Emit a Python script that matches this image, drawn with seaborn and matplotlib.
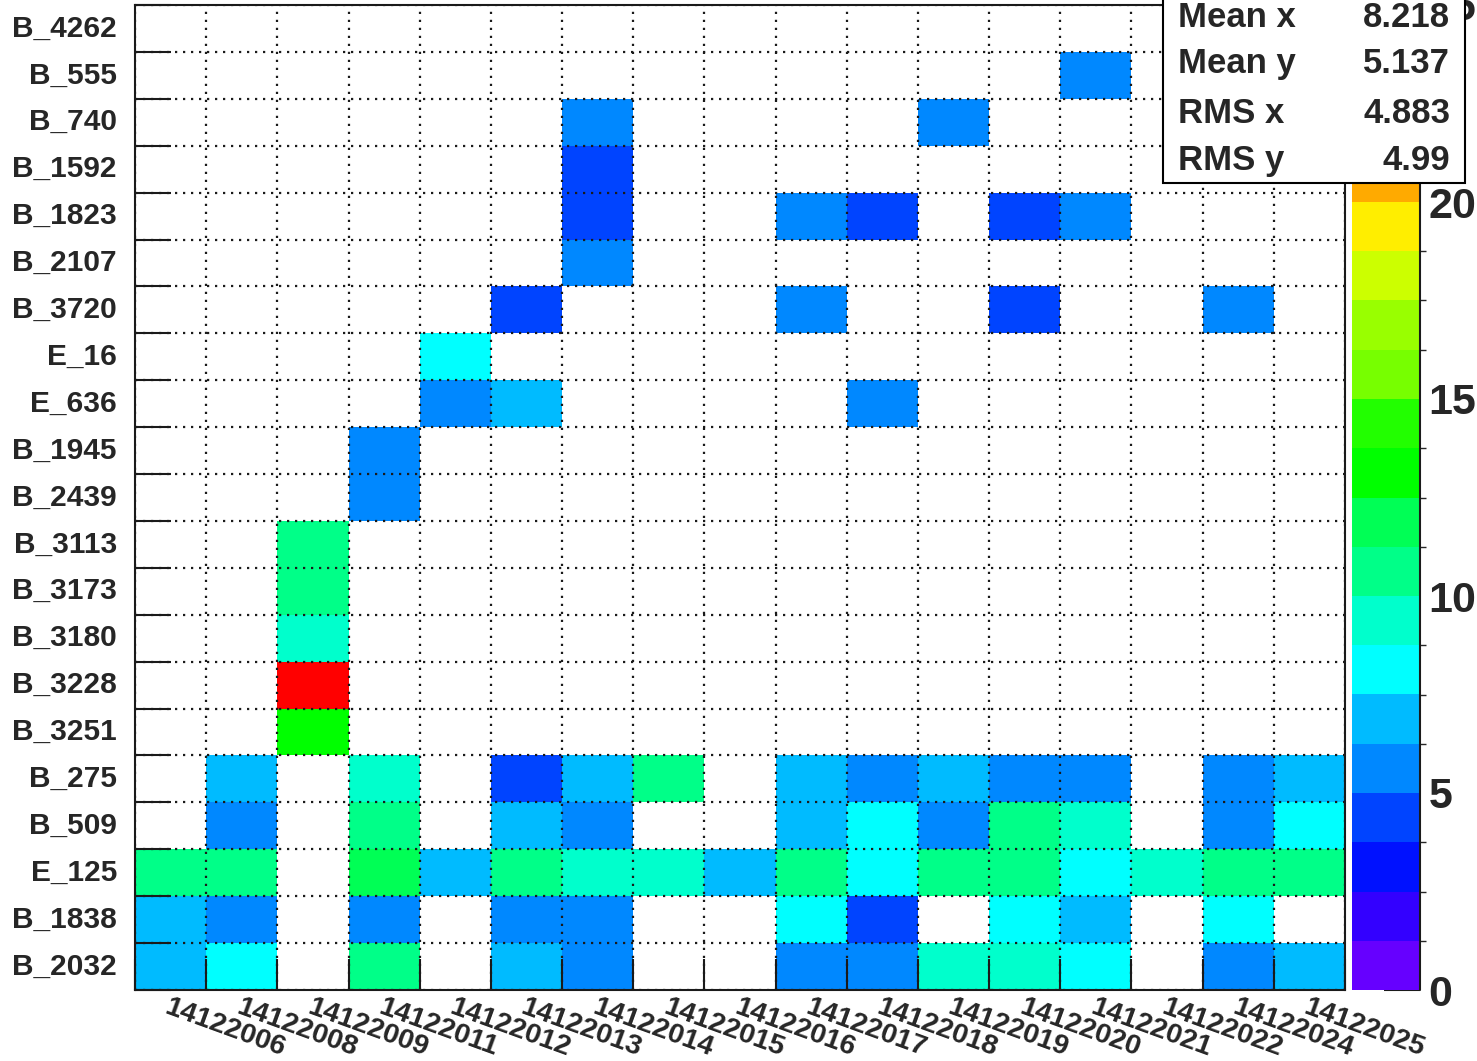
import numpy as np
import pandas as pd
import matplotlib
matplotlib.use('Agg')
import matplotlib.pyplot as plt
from matplotlib.colors import ListedColormap, BoundaryNorm
from matplotlib.patches import Rectangle
import seaborn as sns

runs = ['14122006', '14122008', '14122009', '14122011', '14122012', '14122013',
        '14122014', '14122015', '14122016', '14122017', '14122018', '14122019',
        '14122020', '14122021', '14122022', '14122024', '14122025']

stations = ['B_4262', 'B_555', 'B_740', 'B_1592', 'B_1823', 'B_2107', 'B_3720',
            'E_16', 'E_636', 'B_1945', 'B_2439', 'B_3113', 'B_3173', 'B_3180',
            'B_3228', 'B_3251', 'B_275', 'B_509', 'E_125', 'B_1838', 'B_2032']

# counts per station, one entry per run (0 = empty bin)
row_B_4262 = [0, 0, 0, 0, 0, 0, 0, 0, 0, 0, 0, 0, 0, 0, 0, 0, 0]
row_B_555 = [0, 0, 0, 0, 0, 0, 0, 0, 0, 0, 0, 0, 0, 6, 0, 0, 0]
row_B_740 = [0, 0, 0, 0, 0, 0, 6, 0, 0, 0, 0, 6, 0, 0, 0, 0, 0]
row_B_1592 = [0, 0, 0, 0, 0, 0, 4, 0, 0, 0, 0, 0, 0, 0, 0, 0, 0]
row_B_1823 = [0, 0, 0, 0, 0, 0, 4, 0, 0, 6, 4, 0, 4, 6, 0, 0, 0]
row_B_2107 = [0, 0, 0, 0, 0, 0, 6, 0, 0, 0, 0, 0, 0, 0, 0, 0, 0]
row_B_3720 = [0, 0, 0, 0, 0, 4, 0, 0, 0, 6, 0, 0, 4, 0, 0, 6, 0]
row_E_16 = [0, 0, 0, 0, 8, 0, 0, 0, 0, 0, 0, 0, 0, 0, 0, 0, 0]
row_E_636 = [0, 0, 0, 0, 6, 7, 0, 0, 0, 0, 6, 0, 0, 0, 0, 0, 0]
row_B_1945 = [0, 0, 0, 6, 0, 0, 0, 0, 0, 0, 0, 0, 0, 0, 0, 0, 0]
row_B_2439 = [0, 0, 0, 6, 0, 0, 0, 0, 0, 0, 0, 0, 0, 0, 0, 0, 0]
row_B_3113 = [0, 0, 11, 0, 0, 0, 0, 0, 0, 0, 0, 0, 0, 0, 0, 0, 0]
row_B_3173 = [0, 0, 11, 0, 0, 0, 0, 0, 0, 0, 0, 0, 0, 0, 0, 0, 0]
row_B_3180 = [0, 0, 9, 0, 0, 0, 0, 0, 0, 0, 0, 0, 0, 0, 0, 0, 0]
row_B_3228 = [0, 0, 24, 0, 0, 0, 0, 0, 0, 0, 0, 0, 0, 0, 0, 0, 0]
row_B_3251 = [0, 0, 13, 0, 0, 0, 0, 0, 0, 0, 0, 0, 0, 0, 0, 0, 0]
row_B_275 = [0, 7, 0, 9, 0, 4, 7, 11, 0, 7, 6, 7, 6, 6, 0, 6, 7]
row_B_509 = [0, 6, 0, 11, 0, 7, 6, 0, 0, 7, 8, 6, 11, 9, 0, 6, 8]
row_E_125 = [11, 11, 0, 12, 7, 11, 9, 9, 7, 11, 8, 11, 11, 8, 9, 11, 11]
row_B_1838 = [7, 6, 0, 6, 0, 6, 6, 0, 0, 8, 4, 0, 8, 7, 0, 8, 0]
row_B_2032 = [7, 8, 0, 11, 0, 7, 6, 0, 0, 6, 6, 9, 9, 8, 0, 6, 7]

counts = [row_B_4262, row_B_555, row_B_740, row_B_1592, row_B_1823, row_B_2107,
          row_B_3720, row_E_16, row_E_636, row_B_1945, row_B_2439, row_B_3113,
          row_B_3173, row_B_3180, row_B_3228, row_B_3251, row_B_275, row_B_509,
          row_E_125, row_B_1838, row_B_2032]

stat_names = ['Mean x', 'Mean y', 'RMS x', 'RMS y']
stat_values = ['8.218', '5.137', '4.883', '4.99']

# ROOT style rainbow palette, 20 contour levels from 0 to 25
palette = ['#6600ff', '#3300ff', '#0011ff', '#0044ff', '#0088ff', '#00bbff',
           '#00ffff', '#00ffcc', '#00ff88', '#00ff55', '#00ff00', '#22ff00',
           '#77ff00', '#99ff00', '#ccff00', '#ffee00', '#ffaa00', '#ff7700',
           '#ff4400', '#ff0000']
levels = np.linspace(0, 25, 21)
cmap = ListedColormap(palette)
norm = BoundaryNorm(levels, cmap.N)

sns.set_theme(style='white')
plt.rcParams['font.family'] = ['Liberation Sans', 'DejaVu Sans']
plt.rcParams['font.weight'] = 'bold'

W, H = 1477, 1061
fig = plt.figure(figsize=(W / 100, H / 100), dpi=100)
ax = fig.add_axes([135 / W, 1 - 990 / H, 1210 / W, 985 / H])
cax = fig.add_axes([1352 / W, 1 - 990 / H, 68 / W, 985 / H])

df = pd.DataFrame(counts, index=stations, columns=runs)
sns.heatmap(df, mask=(df == 0), cmap=cmap, norm=norm, ax=ax, cbar_ax=cax,
            xticklabels=runs, yticklabels=stations,
            cbar_kws={'ticks': [0, 5, 10, 15, 20, 25]})

# tick marks at bin edges, labels at bin centres
ax.set_xticks(np.arange(len(runs) + 1), minor=True)
ax.set_yticks(np.arange(len(stations) + 1), minor=True)
ax.tick_params(which='major', length=0)
ax.tick_params(axis='x', which='minor', direction='in', bottom=True, length=22, width=1.5, color='k')
ax.tick_params(axis='y', which='minor', direction='in', left=True, length=26, width=1.5, color='k')
ax.tick_params(axis='x', which='major', labelsize=20.5, pad=3)
ax.tick_params(axis='y', which='major', labelsize=21.5, pad=13)
ax.grid(which='minor', color='k', linestyle=(0, (1, 2.6)), linewidth=1.6)
ax.grid(which='major', visible=False)
ax.set_axisbelow(False)

ax.set_yticklabels(stations, rotation=0, fontweight='bold')
ax.set_xticklabels(runs, fontweight='bold')
for lbl in ax.get_xticklabels():
    lbl.set_rotation(-20)
    lbl.set_ha('left')
    lbl.set_va('top')
    lbl.set_rotation_mode('anchor')
ax.set_xlabel('')
ax.set_ylabel('')

for s in ax.spines.values():
    s.set_visible(True)
    s.set_color('k')
    s.set_linewidth(1.5)

# palette axis
cbar = ax.collections[0].colorbar
cbar.outline.set_visible(False)
cax.tick_params(direction='in', length=26, width=1.5, color='k', labelsize=31, pad=6, right=True)
for t in cax.get_yticklabels():
    t.set_fontweight('bold')
cax.plot([1, 1], [0, 1], transform=cax.transAxes, color='k', lw=1.5, clip_on=False)

# stats box (covers the top of the palette axis, as in the original)
fig.add_artist(Rectangle((1163 / W, 1 - 183 / H), (1465 - 1163) / W, 0.2,
                         transform=fig.transFigure, facecolor='white',
                         edgecolor='black', lw=1.5, zorder=10))
baselines = [27, 73, 123, 170]
for name, val, yb in zip(stat_names, stat_values, baselines):
    fig.text(1178 / W, 1 - yb / H, name, ha='left', va='baseline',
             fontsize=25, fontweight='bold', zorder=11)
    fig.text(1450 / W, 1 - yb / H, val, ha='right', va='baseline',
             fontsize=25, fontweight='bold', zorder=11)

fig.savefig('out.png', dpi=100, facecolor='white')
